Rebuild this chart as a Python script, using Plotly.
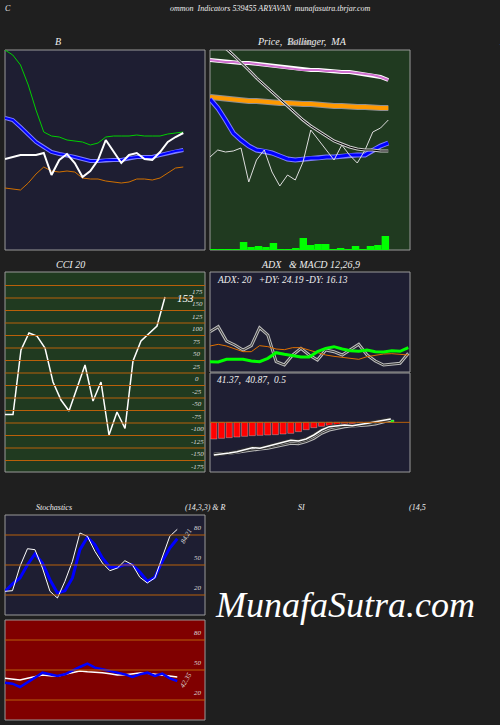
import plotly.graph_objects as go

W, H = 500, 725
BG = "#1f1f1f"
NAVY = "#1e1e32"
GREEN_BG = "#203a20"
RED_BG = "#800000"
GRID = "#b8600a"
FONT = "Liberation Serif"

# ---- Panel B (values as read, screen-like scale, top=50 bottom=250)
b_upper = [50, 55, 65, 85, 110, 132, 136, 137, 140, 141, 142, 145, 143, 137, 136, 136, 136, 135, 136, 136, 136, 134, 133, 132]
b_mid = [118, 120, 127, 135, 142, 147, 152, 154, 155, 157, 159, 161, 161, 160, 160, 160, 158, 157, 157, 157, 155, 153, 151, 150]
b_lower = [188, 189, 190, 183, 174, 167, 171, 172, 171, 172, 178, 179, 179, 181, 182, 183, 182, 179, 179, 180, 178, 173, 168, 167]
b_price = [159, 157, 155, 155, 155, 153, 175, 160, 154, 163, 177, 171, 160, 140, 152, 163, 155, 153, 159, 160, 152, 142, 137, 133]

# ---- Price / Bollinger / MA panel
p_ma_long = [60, 61, 62, 62, 63, 63, 64, 65, 66, 67, 68, 69, 70, 70, 70, 71, 71, 72, 72, 73, 74, 75, 77, 80]
p_ma_mid = [97, 98, 99, 100, 100, 101, 101, 102, 102, 103, 103, 104, 104, 104, 105, 105, 106, 106, 107, 107, 107, 108, 108, 108]
p_ma_short = [99, 108, 120, 133, 140, 146, 150, 151, 153, 156, 159, 160, 159, 158, 158, 157, 157, 156, 155, 155, 155, 150, 146, 143]
p_close = [157, 150, 152, 151, 148, 182, 160, 150, 172, 186, 175, 180, 162, 130, 140, 150, 160, 145, 155, 163, 150, 132, 128, 120]
p_trend = [37, 43, 48, 55, 62, 70, 78, 85, 92, 100, 106, 113, 120, 126, 131, 136, 141, 144, 147, 149, 150, 150, 151, 151]
volume = [1, 1, 1, 1, 8, 3, 4, 3, 7, 1, 1, 2, 12, 5, 6, 6, 1, 2, 1, 4, 1, 4, 5, 14]

# ---- CCI 20
cci = [-83, -83, 46, 80, 74, 50, -18, -54, -76, -31, 16, -56, -18, -124, -78, -111, 24, 64, 79, 94, 152]
cci_levels = [175, 150, 125, 100, 75, 50, 25, 0, -25, -50, -75, -100, -125, -150, -175]

# ---- ADX (read positions, higher number = lower)
dx = [230, 215, 258, 270, 285, 272, 218, 240, 320, 330, 300, 280, 300, 315, 285, 290, 300, 285, 268, 300, 318, 330, 328, 325, 295]
adx = [273, 268, 273, 282, 290, 290, 272, 275, 282, 284, 278, 278, 285, 292, 300, 304, 307, 312, 313, 305, 300, 297, 296, 297, 300]
pdi = [320, 321, 313, 313, 313, 318, 320, 310, 293, 298, 303, 306, 306, 290, 280, 275, 282, 287, 289, 285, 290, 291, 287, 289, 278]

# ---- MACD (read positions, zero at 502)
macd_hist = [552, 550, 548, 546, 544, 542, 541, 540, 539, 537, 535, 530, 524, 518, 514, 511, 509, 507, 506, 505, 504, 503, 502, 495]
macd_line = [600, 598, 594, 590, 585, 578, 580, 575, 568, 562, 556, 558, 552, 540, 525, 515, 512, 510, 512, 509, 505, 500, 495, 492]
macd_sig = [598, 597, 595, 592, 588, 584, 582, 580, 575, 568, 565, 566, 560, 550, 535, 525, 520, 515, 513, 512, 510, 507, 502, 495]

# ---- Stochastics
stoch_k = [23.7, 24.3, 48.7, 66.3, 65.3, 47, 23.7, 17, 33.7, 53.7, 82, 78.7, 63.7, 52, 44.3, 47, 54.3, 50.3, 37.7, 32, 37, 58.7, 78.7, 85.7]
stoch_d = [23.7, 31, 37, 50.3, 61, 52, 35.3, 22, 24.3, 37, 65.3, 77.7, 70.3, 57, 47.7, 47.7, 50.3, 50.3, 43, 33.7, 37.7, 53.7, 67, 76.3]

# ---- RSI
rsi_raw = [565, 568, 578, 565, 550, 535, 540, 545, 540, 528, 518, 508, 520, 525, 530, 535, 540, 548, 540, 535, 545, 538, 552, 560]
rsi_smooth = [552, 555, 557, 552, 546, 542, 544, 546, 540, 536, 530, 532, 533, 535, 538, 542, 541, 538, 536, 537, 540, 544, 546, 548]
rsi = [80 - (v - 437) / 3 for v in rsi_raw]
rsi_ma = [80 - (v - 437) / 3 for v in rsi_smooth]
osc_levels = [80, 50, 20]


def dom(x0, x1, y0, y1):
    return [x0 / W, x1 / W], [1 - y1 / H, 1 - y0 / H]


fig = go.Figure()
layout = dict(width=W, height=H, paper_bgcolor=BG, plot_bgcolor="rgba(0,0,0,0)",
              margin=dict(l=0, r=0, t=0, b=0), showlegend=False, shapes=[], annotations=[])

panels = {
    # name: (x0,x1,y0,y1, xrange, yrange, bg)
    "B": (5, 205, 50, 250, [0, 25.8], [250, 50], NAVY),
    "P": (210, 410, 50, 250, [0, 25.8], [250, 50], GREEN_BG),
    "V": (210, 410, 50, 250, [-0.5, 26.3], [0, 200], None),
    "C": (5, 205, 272, 472, [0, 25], [-198, 202], GREEN_BG),
    "A": (210, 410, 272, 372, [0, 24.2], [351, 51], NAVY),
    "M": (210, 410, 373, 472, [-0.5, 25.5], [651, 354], NAVY),
    "S": (5, 205, 515, 615, [0, 26.7], [0, 100], NAVY),
    "R": (5, 205, 620, 720, [0, 26.7], [0, 100], RED_BG),
}
ax = {}
for i, (k, (x0, x1, y0, y1, xr, yr, bg)) in enumerate(panels.items(), start=1):
    xd, yd = dom(x0, x1, y0, y1)
    sfx = "" if i == 1 else str(i)
    layout["xaxis" + sfx] = dict(domain=xd, range=xr, visible=False, anchor="y" + sfx)
    layout["yaxis" + sfx] = dict(domain=yd, range=yr, visible=False, anchor="x" + sfx)
    ax[k] = ("x" + sfx, "y" + sfx)
    if bg:
        layout["shapes"].append(dict(type="rect", xref="paper", yref="paper", x0=xd[0], x1=xd[1],
                                     y0=yd[0], y1=yd[1], fillcolor=bg, line=dict(color="#999", width=1),
                                     layer="below"))


def line(k, y, color, width, x=None):
    xa, ya = ax[k]
    fig.add_trace(go.Scatter(x=x if x is not None else list(range(len(y))), y=y, mode="lines",
                             line=dict(color=color, width=width), xaxis=xa, yaxis=ya, hoverinfo="skip",
                             cliponaxis=False))


def dbl(k, y, outer, inner, w):
    line(k, y, outer, w + 2)
    line(k, y, inner, w)


# B
line("B", b_upper, "#00d000", 1)
dbl("B", b_mid, "#8080ff", "#0000ff", 2)
line("B", b_lower, "#d07000", 1)
line("B", b_price, "#ffffff", 2)

# Price
xa, ya = ax["V"]
fig.add_trace(go.Bar(x=list(range(len(volume))), y=volume, marker=dict(color="#00ff00", line_width=0),
                     width=1.0, xaxis=xa, yaxis=ya, hoverinfo="skip"))
dbl("P", p_ma_long, "#ffffff", "#d070d0", 2)
dbl("P", p_ma_mid, "#909090", "#ff9900", 4)
dbl("P", p_ma_short, "#8080ff", "#0000ff", 3)
line("P", p_close, "#dddddd", 1)
dbl("P", p_trend, "#cccccc", "#000000", 1)

# CCI
xd, yd = dom(*panels["C"][:4])
for v in cci_levels:
    layout["shapes"].append(dict(type="line", xref="paper", yref=ax["C"][1], x0=xd[0], x1=xd[1],
                                 y0=v, y1=v, line=dict(color=GRID, width=1)))
    layout["annotations"].append(dict(xref=ax["C"][0], yref=ax["C"][1], x=24, y=v - 12.5, text=f"<i>{v}</i>",
                                      showarrow=False, font=dict(family=FONT, size=7, color="#ddd")))
line("C", cci, "#ffffff", 1.5)
layout["annotations"].append(dict(xref=ax["C"][0], yref=ax["C"][1], x=len(cci) + 0.3, y=cci[-1] - 2,
                                  text="<i>153</i>", showarrow=False, xanchor="left",
                                  font=dict(family=FONT, size=11, color="#fff")))

# ADX
dbl("A", dx, "#bbbbbb", "#333333", 1)
line("A", adx, "#e07000", 1)
line("A", pdi, "#00ff00", 3)

# MACD
xd, yd = dom(*panels["M"][:4])
layout["shapes"].append(dict(type="line", xref="paper", yref=ax["M"][1], x0=xd[0], x1=xd[1],
                             y0=502, y1=502, line=dict(color=GRID, width=1)))
xa, ya = ax["M"]
fig.add_trace(go.Bar(x=list(range(len(macd_hist))), y=[h - 502 for h in macd_hist], base=502,
                     marker=dict(color=["#ff0000" if h > 502 else "#00ff00" for h in macd_hist],
                                 line=dict(color="#ffffff", width=0.3)),
                     width=0.8, xaxis=xa, yaxis=ya, hoverinfo="skip"))
dbl("M", macd_sig, "#bbbbbb", "#333333", 1)
dbl("M", macd_line, "#333333", "#ffffff", 1.5)

# Stoch / RSI
for k in ("S", "R"):
    xd, yd = dom(*panels[k][:4])
    for v in osc_levels:
        layout["shapes"].append(dict(type="line", xref="paper", yref=ax[k][1], x0=xd[0], x1=xd[1],
                                     y0=v, y1=v, line=dict(color=GRID, width=1)))
        layout["annotations"].append(dict(xref=ax[k][0], yref=ax[k][1], x=25.8, y=v + 7, text=f"<i>{v}</i>",
                                          showarrow=False, font=dict(family=FONT, size=7, color="#ddd")))
line("S", stoch_d, "#0000ff", 3)
line("S", stoch_k, "#ffffff", 1)
line("R", rsi_ma, "#ffffff", 1.5)
line("R", rsi, "#0000ff", 2.5)
layout["annotations"].append(dict(xref=ax["S"][0], yref=ax["S"][1], x=24.2, y=stoch_d[-1] + 3, text="<i>84.21</i>",
                                  textangle=-60, showarrow=False, font=dict(family=FONT, size=7, color="#ddd")))
layout["annotations"].append(dict(xref=ax["R"][0], yref=ax["R"][1], x=24.2, y=rsi[-1] + 1, text="<i>42.35</i>",
                                  textangle=-60, showarrow=False, font=dict(family=FONT, size=7, color="#ddd")))


def txt(x, y, s, size=9, anchor="center", italic=True, color="#eeeeee"):
    layout["annotations"].append(dict(xref="paper", yref="paper", x=x / W, y=1 - y / H,
                                      text=f"<i>{s}</i>" if italic else s, showarrow=False,
                                      xanchor=anchor, yanchor="middle",
                                      font=dict(family=FONT, size=size, color=color)))


txt(8, 8, "C", 8)
txt(270, 8, "ommon  Indicators 539455 ARYAVAN  munafasutra.tbrjar.com", 8)
txt(58, 42, "B", 10)
txt(302, 42, "Price,  Bollinger,  MA", 10)
txt(300, 42, "Volume", 9, color="#bbbbbb")
txt(497, 42, "E", 10, anchor="left")
txt(70, 264, "CCI 20", 10)
txt(310, 264, "ADX   &amp; MACD 12,26,9", 10)
txt(215, 280, "ADX: 20   +DY: 24.19 -DY: 16.13", 9.5, anchor="left")
txt(215, 380, "41.37,  40.87,  0.5", 9.5, anchor="left")
txt(54, 507, "Stochastics", 8)
txt(205, 507, "(14,3,3) &amp; R", 8)
txt(301, 507, "SI", 8)
txt(417, 507, "(14,5", 8)
txt(345, 605, "MunafaSutra.com", 36, italic=True, color="#ffffff")

fig.update_layout(**layout)
fig.write_html("out.html", config={"displayModeBar": False},
               post_script="document.body.style.margin='0';document.body.style.background='#1f1f1f';")
